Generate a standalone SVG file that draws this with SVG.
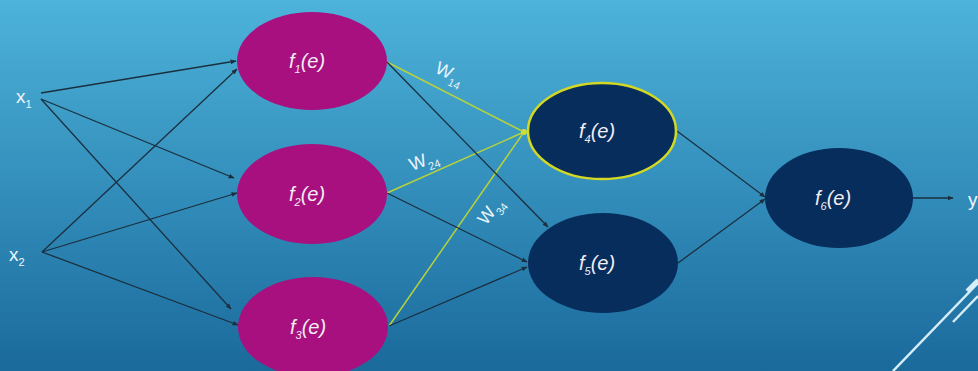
<svg xmlns="http://www.w3.org/2000/svg" width="978" height="371" viewBox="0 0 978 371">
<defs>
<linearGradient id="bg" x1="0" y1="0" x2="0" y2="1">
<stop offset="0" stop-color="#4db3da"/>
<stop offset="1" stop-color="#1a6a9c"/>
</linearGradient>
<marker id="arr" viewBox="0 0 10 10" refX="9" refY="5" markerWidth="6" markerHeight="6" orient="auto" markerUnits="userSpaceOnUse">
<path d="M0,1 L10,5 L0,9 z" fill="#1b2f3f"/>
</marker>
<style>
.lbl{font-family:"Liberation Sans",Arial,sans-serif;font-style:italic;font-size:20px;fill:#f2eef4;}
.sub{font-size:11px;}
.in{font-family:"Liberation Sans",Arial,sans-serif;font-size:19px;fill:#eef6fb;}
.w{font-family:"Liberation Sans",Arial,sans-serif;font-size:18px;fill:#e8f4fa;}
.c{stroke:#1b2f3f;stroke-width:1.3;fill:none;marker-end:url(#arr);}
.g{stroke:#b6d23c;stroke-width:1.5;fill:none;}
.mag{fill:#a8107f;}
.nav{fill:#062d5c;}
</style>
</defs>
<rect width="978" height="371" fill="url(#bg)"/>
<g id="deco" stroke="#d6eef8" stroke-width="2.5" fill="none">
<line x1="893" y1="371" x2="978" y2="283"/>
<line x1="953" y1="322" x2="978" y2="296"/>
<line x1="967" y1="291" x2="978" y2="280" stroke-width="4"/>
</g>
<g id="connectors">
<line class="c" x1="41" y1="93" x2="236" y2="61"/>
<line class="c" x1="41" y1="99" x2="234" y2="178"/>
<line class="c" x1="41" y1="99" x2="231" y2="309"/>
<line class="c" x1="42" y1="252" x2="237" y2="69"/>
<line class="c" x1="42" y1="252" x2="237" y2="193"/>
<line class="c" x1="42" y1="252" x2="238" y2="325"/>
<line class="g" x1="387" y1="62" x2="524" y2="132"/>
<line class="g" x1="387" y1="193" x2="524" y2="132"/>
<line class="g" x1="389" y1="326" x2="524" y2="132"/>
<circle cx="524" cy="132" r="3" fill="#c8e03c"/>
<line class="c" x1="387" y1="62" x2="548" y2="227"/>
<line class="c" x1="387" y1="193" x2="527" y2="262"/>
<line class="c" x1="389" y1="326" x2="527" y2="267"/>
<line class="c" x1="677" y1="131" x2="765" y2="197"/>
<line class="c" x1="678" y1="263" x2="765" y2="199"/>
<line class="c" x1="913" y1="198" x2="953" y2="198"/>
<text class="w" transform="translate(434,72) rotate(26)">W<tspan class="sub" dy="6">14</tspan></text>
<text class="w" transform="translate(412,171) rotate(-21)">W<tspan class="sub" dy="6">24</tspan></text>
<text class="w" transform="translate(486,226) rotate(-52)">W<tspan class="sub" dy="6">34</tspan></text>
</g>
<g id="x1"><text class="in" x="16" y="103">x<tspan class="sub" dy="5">1</tspan></text></g>
<g id="x2"><text class="in" x="9" y="261">x<tspan class="sub" dy="5">2</tspan></text></g>
<g id="y"><text class="in" x="968" y="206">y</text></g>
<g id="f1"><ellipse class="mag" cx="312" cy="61" rx="75" ry="49"/><text class="lbl" x="289" y="68">f<tspan class="sub" dy="5">1</tspan><tspan dy="-5">(e)</tspan></text></g>
<g id="f2"><ellipse class="mag" cx="312" cy="194" rx="75" ry="50"/><text class="lbl" x="289" y="201">f<tspan class="sub" dy="5">2</tspan><tspan dy="-5">(e)</tspan></text></g>
<g id="f3"><ellipse class="mag" cx="313" cy="327" rx="75" ry="50"/><text class="lbl" x="290" y="334">f<tspan class="sub" dy="5">3</tspan><tspan dy="-5">(e)</tspan></text></g>
<g id="f4"><ellipse class="nav" cx="602" cy="131" rx="74" ry="48" stroke="#d2d823" stroke-width="2.5"/><text class="lbl" x="579" y="138">f<tspan class="sub" dy="5">4</tspan><tspan dy="-5">(e)</tspan></text></g>
<g id="f5"><ellipse class="nav" cx="603" cy="263" rx="75" ry="50"/><text class="lbl" x="579" y="270">f<tspan class="sub" dy="5">5</tspan><tspan dy="-5">(e)</tspan></text></g>
<g id="f6"><ellipse class="nav" cx="839" cy="198" rx="74" ry="50"/><text class="lbl" x="815" y="205">f<tspan class="sub" dy="5">6</tspan><tspan dy="-5">(e)</tspan></text></g>
</svg>
